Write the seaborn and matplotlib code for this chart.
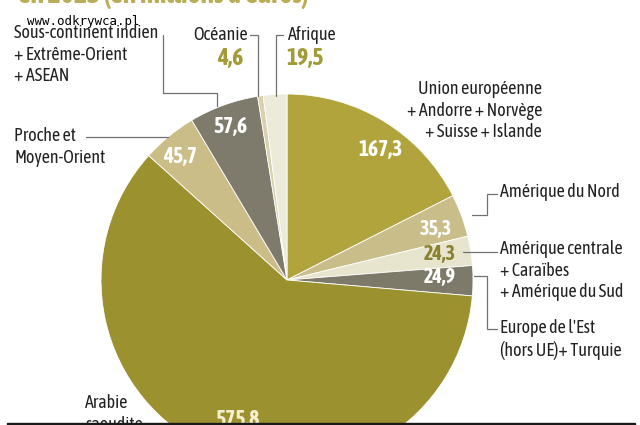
import matplotlib
matplotlib.use("Agg")
import matplotlib.pyplot as plt
import seaborn as sns
from matplotlib.patches import Rectangle

sns.set_theme(style="white")
plt.rcParams['font.family'] = ['Asap Condensed', 'DejaVu Sans']

# ---- data ----
regions = ["Union européenne + Andorre + Norvège + Suisse + Islande",
           "Amérique du Nord",
           "Amérique centrale + Caraïbes + Amérique du Sud",
           "Europe de l'Est (hors UE)+ Turquie",
           "Arabie saoudite",
           "Proche et Moyen-Orient",
           "Sous-continent indien + Extrême-Orient + ASEAN",
           "Océanie",
           "Afrique"]
values = [167.3, 35.3, 24.3, 24.9, 575.8, 45.7, 57.6, 4.6, 19.5]
colors = ["#b2a43c", "#c9bd8a", "#e8e5cf", "#7e7a6a", "#9b922f",
          "#cabd87", "#7e7a6c", "#d8d1ab", "#ecead8"]
title = "en 2013 (en millions d'euros)"

W, H = 640, 425
fig = plt.figure(figsize=(6.4, 4.25), dpi=100)
ax = fig.add_axes([0, 0, 1, 1])

def Y(y):
    return H - y

ax.pie(values, colors=colors, startangle=90, counterclock=False,
       center=(287, Y(280)), radius=186, frame=True,
       wedgeprops=dict(edgecolor="white", linewidth=0.6))
ax.set_xlim(0, W)
ax.set_ylim(0, H)
ax.set_aspect("equal")
ax.axis("off")

def fmt(v):
    return f"{v:.1f}".replace(".", ",")

olive = "#a39a38"
lc = "#707070"
fs = 13
vfs = 15.5

# title (cut off at top)
ax.text(18, Y(-5), title, color="#b9ad55", fontsize=20, fontweight="bold",
        ha="left", va="center")
# watermark
ax.text(27, Y(21), "www.odkrywca.pl", family="DejaVu Sans Mono",
        fontsize=9, color="black", ha="left", va="center", zorder=6)

# value labels inside
val_pos = [(380, 150, "white", vfs), (436, 229, "white", 14.5),
           (440, 254, "#8a8230", 14.5), (440, 277, "white", 14.5),
           (237, 420, "#f4efd0", vfs), (180, 157, "white", vfs),
           (230, 127, "white", vfs)]
for (x, y, c, s), v in zip(val_pos, values[:7]):
    ax.text(x, Y(y), fmt(v), color=c, fontsize=s, fontweight="bold",
            ha="center", va="center")
# small slices: values outside in olive
ax.text(230, Y(58), fmt(values[7]), color=olive, fontsize=17,
        fontweight="bold", ha="center", va="center")
ax.text(305, Y(58), fmt(values[8]), color=olive, fontsize=17,
        fontweight="bold", ha="center", va="center")

# outside text labels
def lab(x, y, s, ha="left"):
    ax.text(x, Y(y), s, fontsize=fs, color="#222222", ha=ha, va="top",
            linespacing=1.25)

lab(14, 24, "Sous-continent indien\n+ Extrême-Orient\n+ ASEAN")
lab(193, 26, "Océanie")
lab(288, 26, "Afrique")
lab(542, 80, "Union européenne\n+ Andorre + Norvège\n+ Suisse + Islande", ha="right")
lab(500, 183, "Amérique du Nord")
lab(500, 240, "Amérique centrale\n+ Caraïbes\n+ Amérique du Sud")
lab(500, 319, "Europe de l'Est\n(hors UE)+ Turquie")
lab(14, 127, "Proche et\nMoyen-Orient")
lab(85, 394, "Arabie\nsaoudite")

def line(pts):
    xs = [p[0] for p in pts]
    ys = [Y(p[1]) for p in pts]
    ax.plot(xs, ys, color=lc, linewidth=0.9, solid_joinstyle="miter")

line([(163, 35), (163, 93), (217, 93), (217, 106)])
line([(250, 35), (258, 35), (258, 96)])
line([(283, 35), (276, 35), (276, 96)])
line([(497, 194), (487, 194), (487, 215), (472, 215)])
line([(497, 252), (463, 252)])
line([(497, 329), (487, 329), (487, 276), (474, 276)])
line([(86, 137), (168, 137)])

# dark bottom border
ax.add_patch(Rectangle((7, 0), 628, 2.5, color="#1a1a1a", zorder=5))

fig.savefig("out.png", dpi=100)
